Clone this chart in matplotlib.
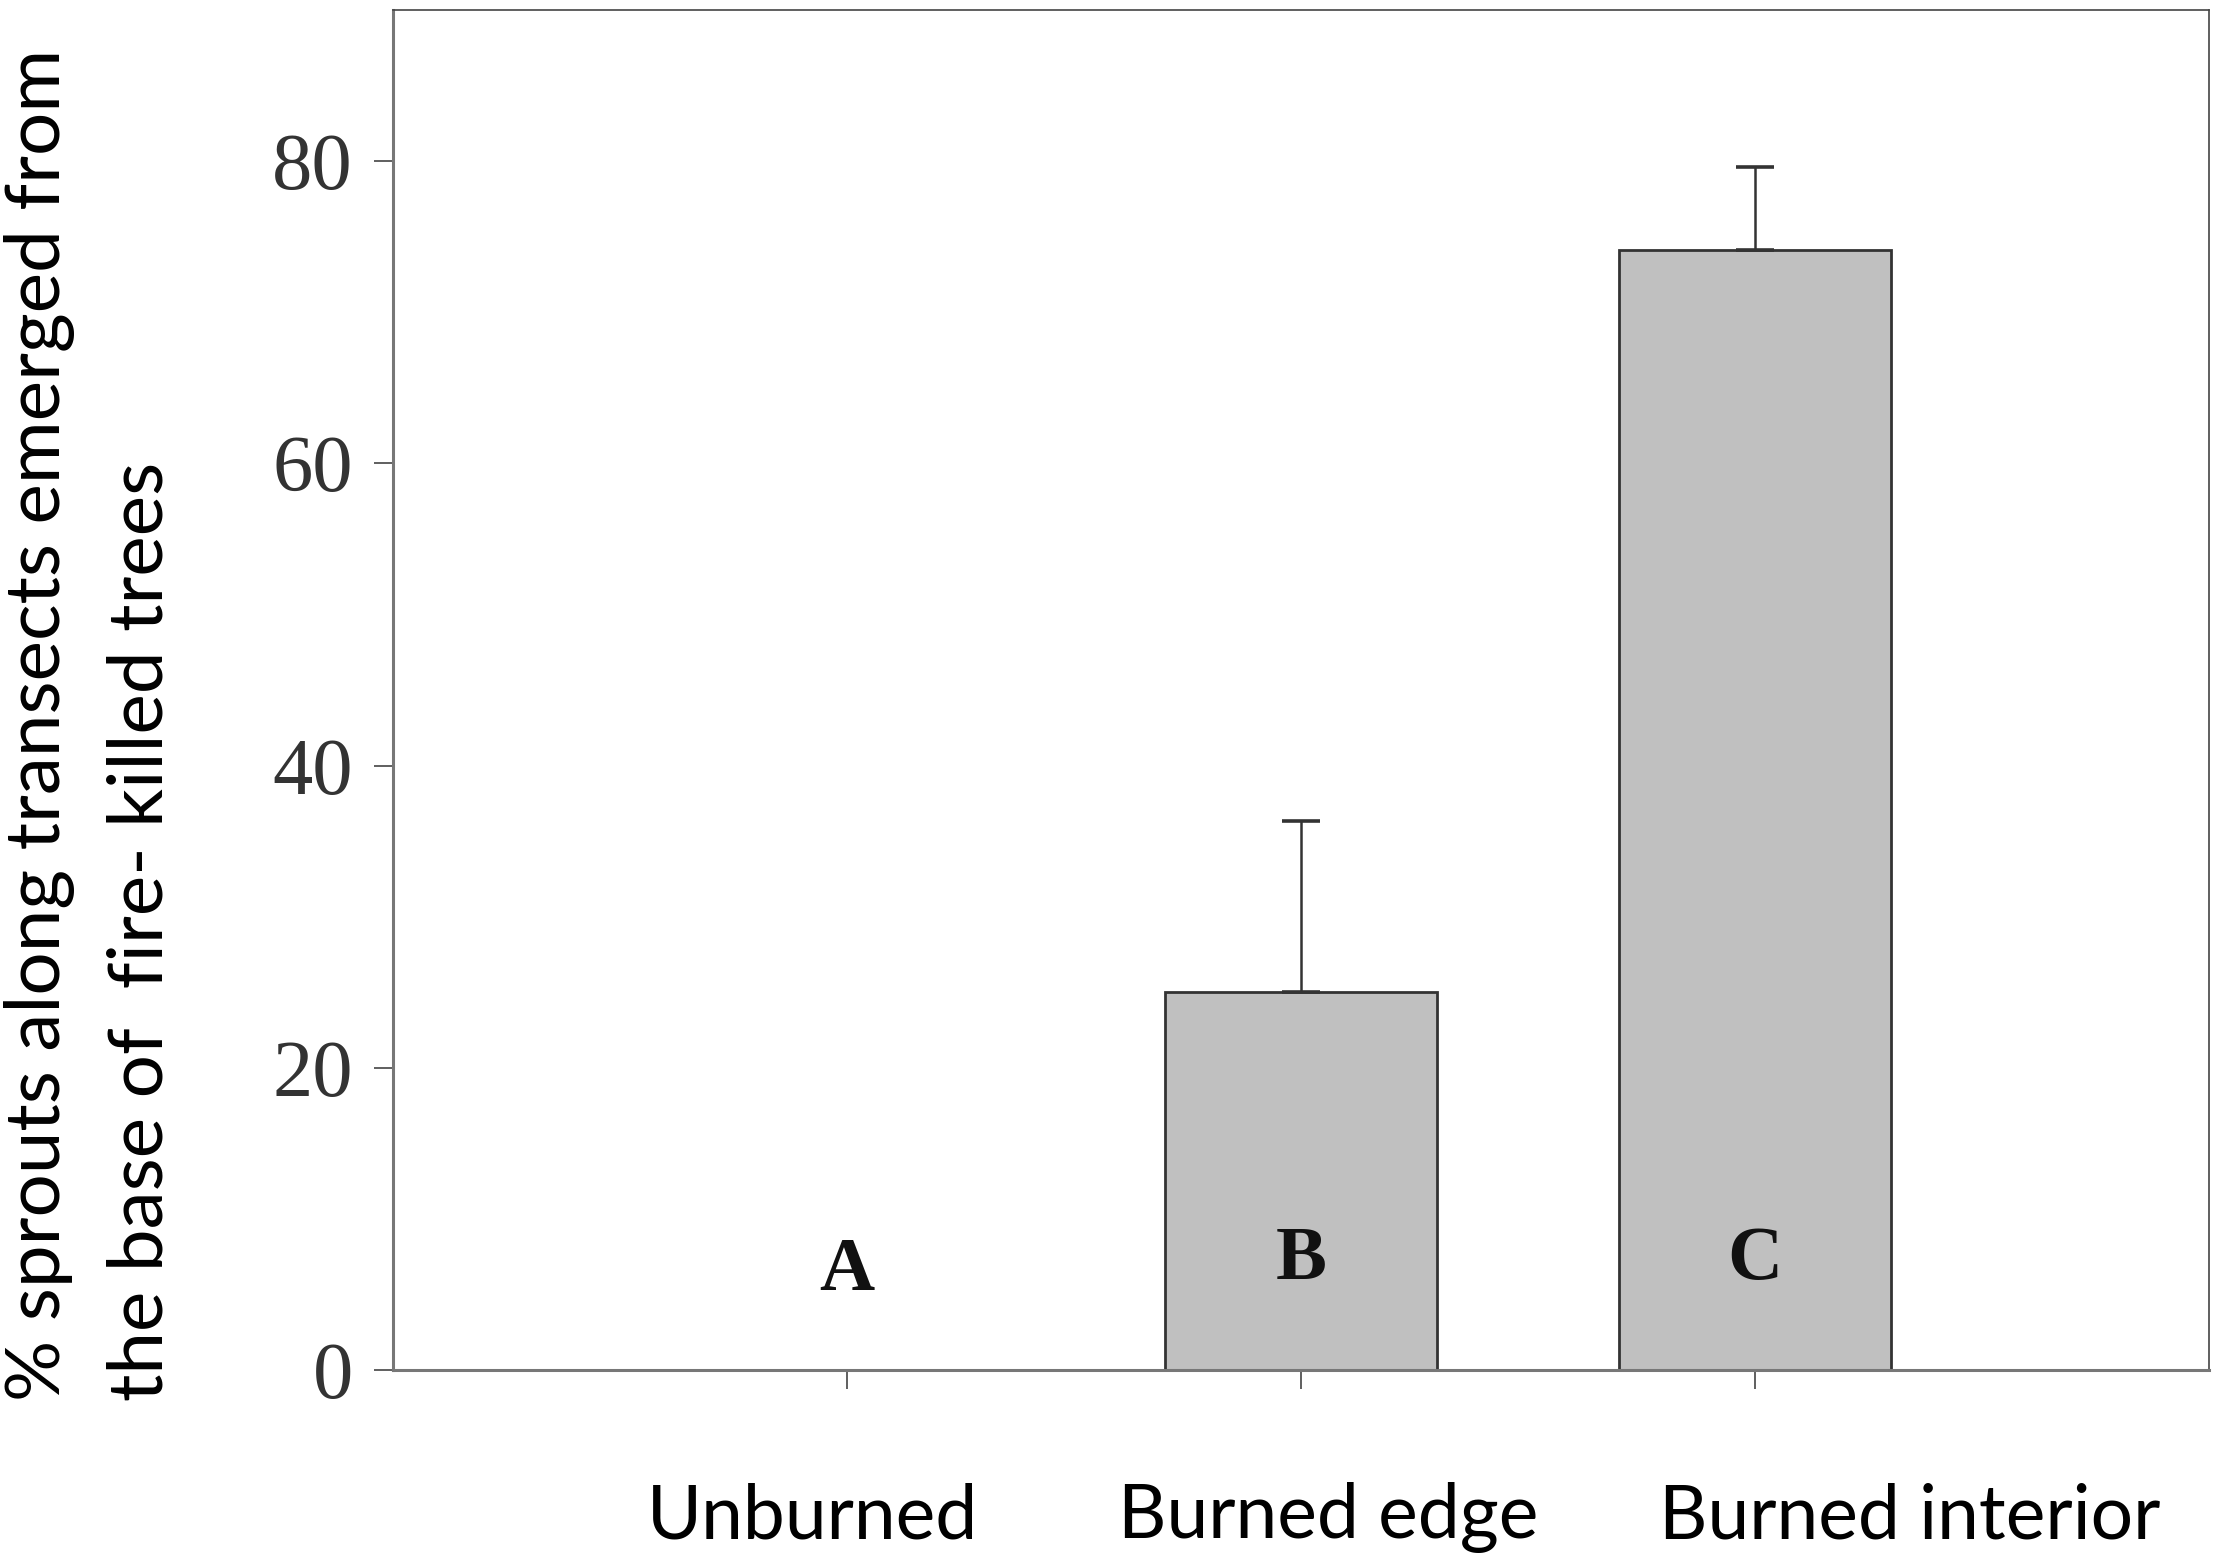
"""Bar chart of sprouts emerging from the base of fire-killed trees."""

import matplotlib

matplotlib.use("Agg")
import matplotlib.pyplot as plt

CATEGORIES = ["Unburned", "Burned edge", "Burned interior"]
VALUES = [0.0, 25.0, 74.1]
ERR_UP = [0.0, 11.3, 5.5]
GROUP_LETTERS = ["A", "B", "C"]
LETTER_Y = [5.3, 6.0, 6.0]
YTICKS = [0, 20, 40, 60, 80]

YLABEL_1 = "% sprouts along transects emerged from"
YLABEL_2 = "the base of  fire- killed trees"

# figure-fraction centres of the category names (they sit off the ticks)
LABEL_X = [0.3667, 0.599, 0.8615]

DPI = 100
BAR_EDGE = "#333333"
TEXT_GRAY = "#333333"


def main() -> int:
    fig = plt.figure(figsize=(22.17, 15.58), dpi=DPI)
    ax = fig.add_axes([0.1773, 0.1207, 0.8191, 0.8729])

    xs = list(range(len(CATEGORIES)))
    widths = [0 if v == 0 else 2.0 for v in VALUES]
    ax.bar(xs, VALUES, width=0.6, color="#c0c0c0", edgecolor=BAR_EDGE,
           linewidth=widths, zorder=2)

    ex = [x for x, e in zip(xs, ERR_UP) if e > 0]
    ey = [v for v, e in zip(VALUES, ERR_UP) if e > 0]
    eu = [e for e in ERR_UP if e > 0]
    ax.errorbar(ex, ey, yerr=[[0] * len(eu), eu], fmt="none", ecolor=BAR_EDGE,
                elinewidth=1.8, capsize=14, capthick=2.6, zorder=3)

    for x, letter, ly in zip(xs, GROUP_LETTERS, LETTER_Y):
        ax.text(x, ly, letter, ha="center", va="baseline", fontsize=55,
                fontweight="bold", family="Liberation Serif", color="#111111",
                zorder=4)

    ax.set_xlim(-1, 3)
    ax.set_ylim(0, 90)
    ax.set_xticks(xs)
    ax.set_xticklabels([])
    ax.set_yticks(YTICKS)
    ax.set_yticklabels([str(t) for t in YTICKS], family="Liberation Serif",
                       fontsize=58, color=TEXT_GRAY)
    ax.tick_params(axis="both", direction="out", length=14, width=1.2,
                   color="#444444")
    ax.tick_params(axis="y", pad=15)

    for side in ("left", "bottom"):
        ax.spines[side].set_color("#777777")
        ax.spines[side].set_linewidth(2.2)
    for side in ("top", "right"):
        ax.spines[side].set_color("#444444")
        ax.spines[side].set_linewidth(1.2)

    for lx, name in zip(LABEL_X, CATEGORIES):
        fig.text(lx, 0.0128, name, ha="center", va="baseline", fontsize=54,
                 family="Lato", color="black")

    fig.text(0.018, 0.101, YLABEL_1, rotation=90, ha="center", va="bottom",
             fontsize=55, family="Lato", color="black")
    fig.text(0.0636, 0.101, YLABEL_2, rotation=90, ha="center", va="bottom",
             fontsize=55, family="Lato", color="black")

    fig.savefig("out.png", dpi=DPI, facecolor="white")
    plt.close(fig)
    return 0


if __name__ == "__main__":
    raise SystemExit(main())
